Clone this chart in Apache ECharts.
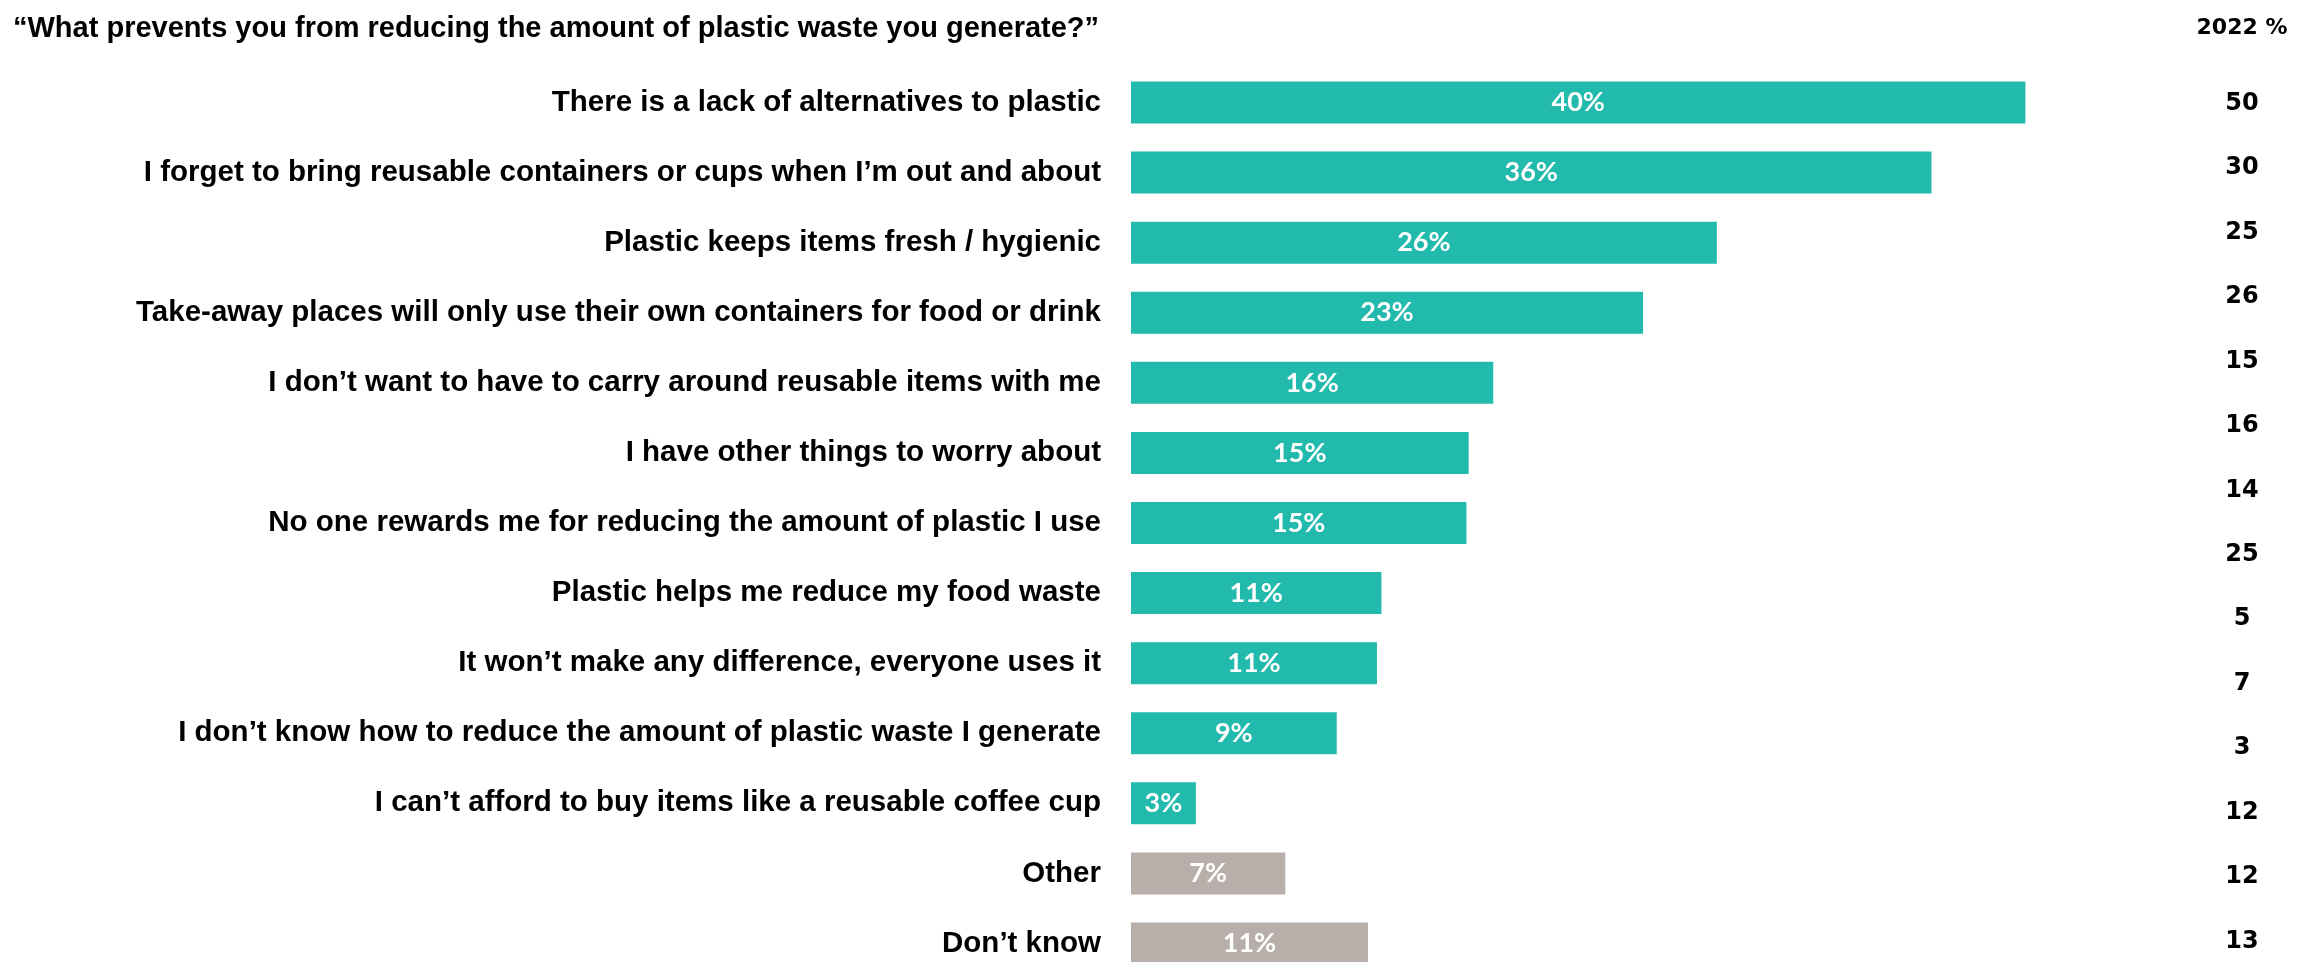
<!DOCTYPE html>
<html>
<head>
<meta charset="utf-8">
<script src="https://cdn.jsdelivr.net/npm/echarts@6/dist/echarts.min.js"></script>
<style>
html,body{margin:0;padding:0;background:#fff;}
#chart{width:2318px;height:962px;}
</style>
</head>
<body>
<div id="chart"></div>
<script>
const chartTitle = '\u201cWhat prevents you from reducing the amount of plastic waste you generate?\u201d';
const categories = [
  'There is a lack of alternatives to plastic',
  'I forget to bring reusable containers or cups when I\u2019m out and about',
  'Plastic keeps items fresh / hygienic',
  'Take-away places will only use their own containers for food or drink',
  'I don\u2019t want to have to carry around reusable items with me',
  'I have other things to worry about',
  'No one rewards me for reducing the amount of plastic I use',
  'Plastic helps me reduce my food waste',
  'It won\u2019t make any difference, everyone uses it',
  'I don\u2019t know how to reduce the amount of plastic waste I generate',
  'I can\u2019t afford to buy items like a reusable coffee cup',
  'Other',
  'Don\u2019t know'
];
const values = [40.0, 35.8, 26.2, 22.9, 16.2, 15.1, 15.0, 11.2, 11.0, 9.2, 2.9, 6.9, 10.6];
const greyCategories = ['Other', 'Don\u2019t know'];
const column2022Header = '2022 %';
const column2022 = ['50', '30', '25', '26', '15', '16', '14', '25', '5', '7', '3', '12', '12', '13'];

const TEAL = '#21BAAD';
const GREY = '#B8AFAB';
const LABEL_FONT = '"Liberation Sans", Arial, sans-serif';
const NUM_FONT = '"DejaVu Sans", sans-serif';
const BAR_FONT = 'Lato';

const chart = echarts.init(document.getElementById('chart'), null, {renderer: 'canvas'});
chart.setOption({
  backgroundColor: '#ffffff',
  animation: false,
  title: {
    text: chartTitle,
    left: 8,
    top: 9,
    textStyle: {fontFamily: LABEL_FONT, fontSize: 29, fontWeight: 'bold', color: '#000'}
  },
  graphic: [{
    type: 'text',
    x: 2242,
    y: 28,
    style: {text: column2022Header, fontFamily: NUM_FONT, fontSize: 22, fontWeight: 'bold', fill: '#000', align: 'center', verticalAlign: 'middle'}
  }],
  grid: [
    {left: 1131, top: 67.5, width: 1118, height: 911, containLabel: false, outerBoundsMode: 'none'},
    {left: 2242, top: 71.5, width: 1, height: 902, containLabel: false, outerBoundsMode: 'none'}
  ],
  xAxis: [
    {gridIndex: 0, type: 'value', min: 0, max: 50, show: false},
    {gridIndex: 1, type: 'value', min: 0, max: 1, show: false}
  ],
  yAxis: [
    {
      gridIndex: 0, type: 'category', inverse: true, data: categories,
      axisLine: {show: false}, axisTick: {show: false}, splitLine: {show: false},
      axisLabel: {fontFamily: LABEL_FONT, fontSize: 29.5, fontWeight: 'bold', color: '#000', margin: 30}
    },
    {
      gridIndex: 1, type: 'category', inverse: true, data: column2022,
      axisLine: {show: false}, axisTick: {show: false}, splitLine: {show: false},
      axisLabel: {fontFamily: NUM_FONT, fontSize: 24, fontWeight: 'bold', color: '#000', margin: 0, align: 'center'}
    }
  ],
  series: [{
    type: 'bar',
    xAxisIndex: 0, yAxisIndex: 0,
    data: values,
    barWidth: 42,
    itemStyle: {
      color: p => greyCategories.indexOf(categories[p.dataIndex]) >= 0 ? GREY : TEAL
    },
    label: {
      show: true, position: 'inside',
      formatter: p => Math.round(p.value) + '%',
      fontFamily: BAR_FONT, fontSize: 27, fontWeight: 'bold', color: '#fff'
    }
  }]
});
</script>
</body>
</html>
